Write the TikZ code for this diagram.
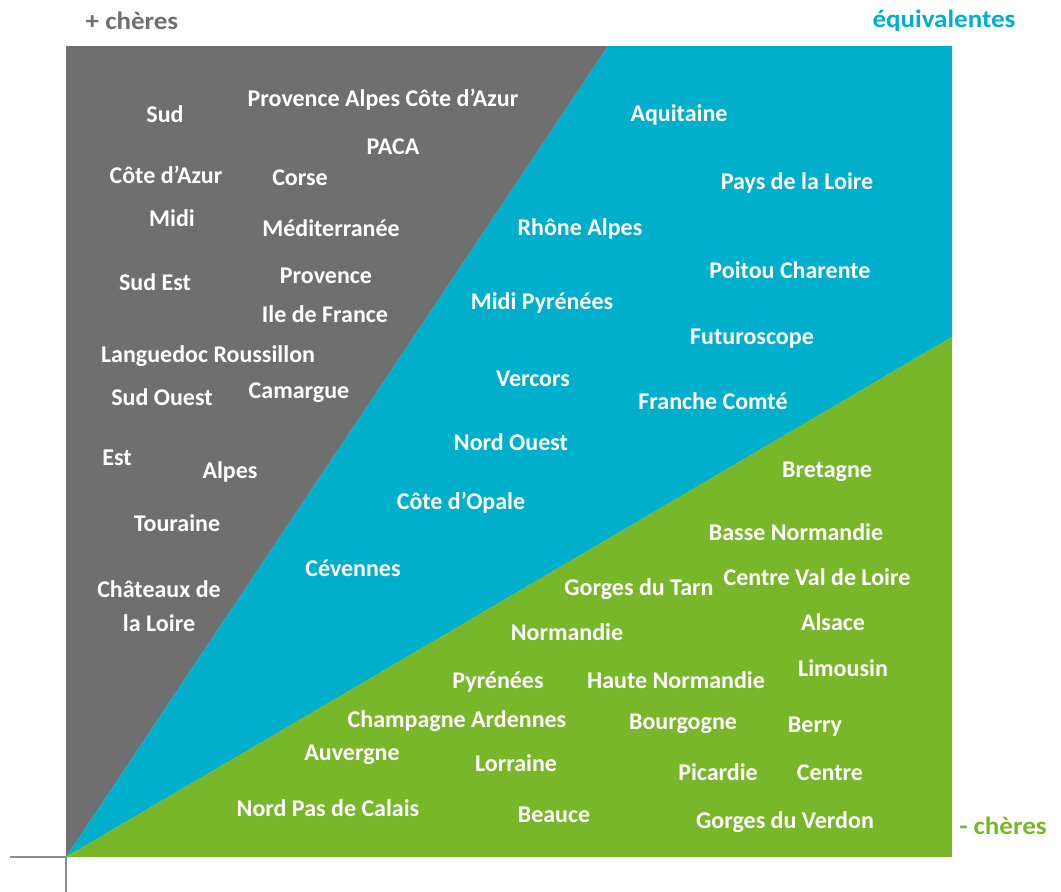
\documentclass[tikz,border=0pt]{standalone}
\usepackage{fontspec}
\setmainfont{Carlito}
\definecolor{pricegray}{HTML}{6F6F6F}
\definecolor{priceblue}{HTML}{00AFCB}
\definecolor{pricegreen}{HTML}{78B72A}
\definecolor{axisgray}{HTML}{8C8C8C}
\newcommand{\widehead}[1]{\scalebox{1.08}[1]{#1}}
\begin{document}
\begin{tikzpicture}[x=1pt,y=-1pt,
  region/.style={font=\fontsize{24}{28}\selectfont\bfseries, text=white, inner sep=0pt, anchor=center, yshift=-1.5pt},
  heading/.style={font=\fontsize{25}{29}\selectfont\bfseries, inner sep=0pt, anchor=center}]
\useasboundingbox (0,0) rectangle (1061,892);
% corner points of the price square
\coordinate (O) at (66,857);
\coordinate (TL) at (66,46);
\coordinate (TM) at (608,46);
\coordinate (TR) at (952,46);
\coordinate (RM) at (952,337);
\coordinate (BR) at (952,857);
% axes
\draw[axisgray, line width=1.5pt] (10,857) -- (O);
\draw[axisgray, line width=1.5pt] (O) -- (66,892);
% three price zones
\fill[pricegray] (O) -- (TL) -- (TM) -- cycle;
\fill[priceblue] (O) -- (TM) -- (TR) -- (RM) -- cycle;
\fill[pricegreen] (O) -- (RM) -- (BR) -- cycle;
% headings
\node[heading, text=pricegray] (hplus) at (132,21) {\widehead{+ chères}};
\node[heading, text=priceblue] (heq) at (944,21) {\widehead{équivalentes}};
\node[heading, text=pricegreen] (hmoins) at (1003,826) {\widehead{- chères}};
% more expensive
\node[region] (g1) at (165,113) {Sud};
\node[region] (g2) at (383,98) {Provence Alpes Côte d’Azur};
\node[region] (g3) at (393,145) {PACA};
\node[region] (g4) at (166,173) {Côte d’Azur};
\node[region] (g5) at (300,176) {Corse};
\node[region] (g6) at (172,217) {Midi};
\node[region] (g7) at (331,227) {Méditerranée};
\node[region] (g8) at (155,281) {Sud Est};
\node[region] (g9) at (326,274) {Provence};
\node[region] (g10) at (325,313) {Ile de France};
\node[region] (g11) at (208,355) {Languedoc Roussillon};
\node[region] (g12) at (162,396) {Sud Ouest};
\node[region] (g13) at (299,391) {Camargue};
\node[region] (g14) at (117,456) {Est};
\node[region] (g15) at (230,470) {Alpes};
\node[region] (g16) at (177,522) {Touraine};
\node[region] (g17) at (159,588) {Châteaux de};
\node[region] (g18) at (159,622) {la Loire};
% equivalent
\node[region] (b1) at (679,113) {Aquitaine};
\node[region] (b2) at (797,181) {Pays de la Loire};
\node[region] (b3) at (580,227) {Rhône Alpes};
\node[region] (b4) at (790,269) {Poitou Charente};
\node[region] (b5) at (542,301) {Midi Pyrénées};
\node[region] (b6) at (752,337) {Futuroscope};
\node[region] (b7) at (533,377) {Vercors};
\node[region] (b8) at (713,400) {Franche Comté};
\node[region] (b9) at (511,441) {Nord Ouest};
\node[region] (b10) at (461,501) {Côte d’Opale};
\node[region] (b11) at (353,567) {Cévennes};
% less expensive
\node[region] (v1) at (827,470) {Bretagne};
\node[region] (v2) at (796,531) {Basse Normandie};
\node[region] (v3) at (639,588) {Gorges du Tarn};
\node[region] (v4) at (817,576) {Centre Val de Loire};
\node[region] (v5) at (567,631) {Normandie};
\node[region] (v6) at (833,621) {Alsace};
\node[region] (v7) at (843,667) {Limousin};
\node[region] (v8) at (498,681) {Pyrénées};
\node[region] (v9) at (676,679) {Haute Normandie};
\node[region] (v10) at (457,720) {Champagne Ardennes};
\node[region] (v11) at (683,722) {Bourgogne};
\node[region] (v12) at (815,725) {Berry};
\node[region] (v13) at (352,753) {Auvergne};
\node[region] (v14) at (516,762) {Lorraine};
\node[region] (v15) at (718,771) {Picardie};
\node[region] (v16) at (830,771) {Centre};
\node[region] (v17) at (328,807) {Nord Pas de Calais};
\node[region] (v18) at (554,813) {Beauce};
\node[region] (v19) at (785,821) {Gorges du Verdon};
\end{tikzpicture}
\end{document}
